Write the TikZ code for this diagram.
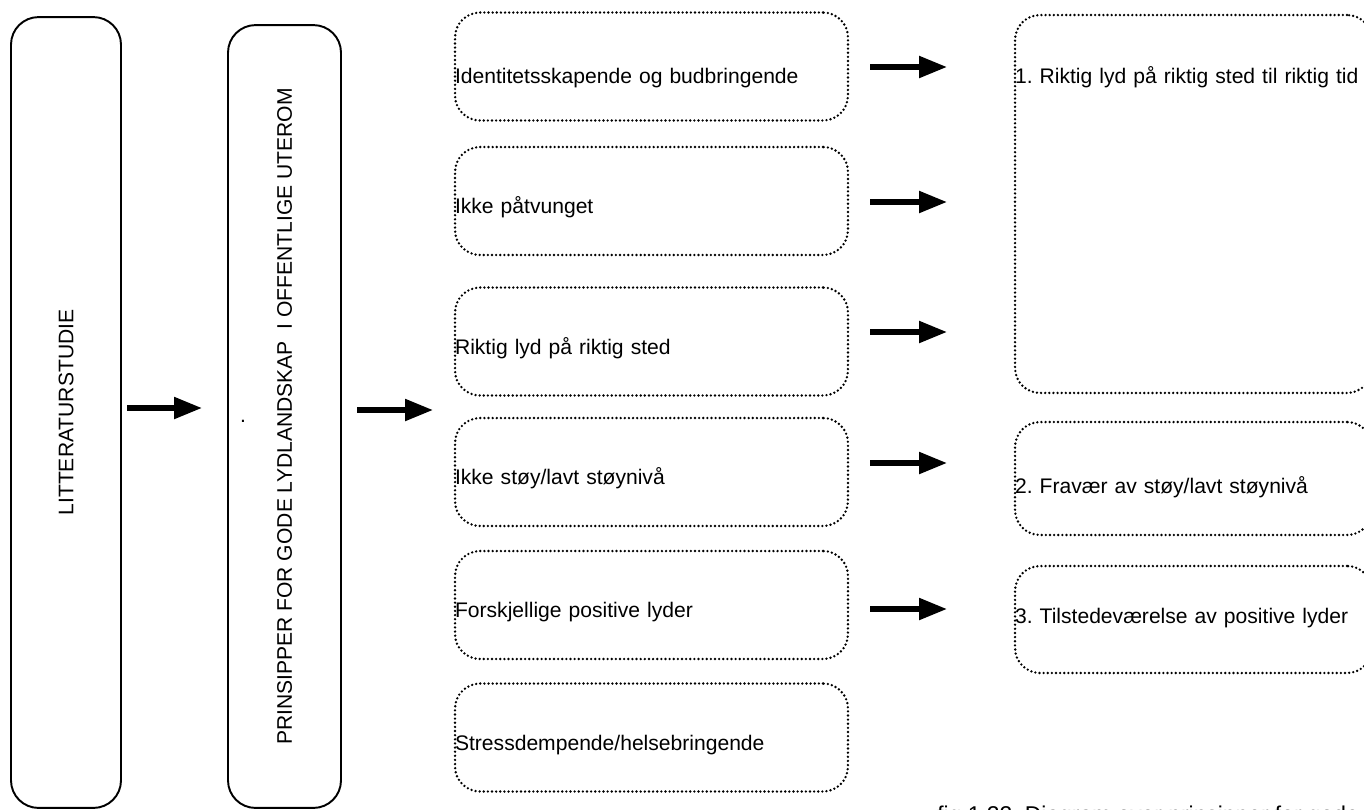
\documentclass[tikz,border=0pt]{standalone}
\usepackage{fontspec}
\setmainfont{Liberation Sans}
\usetikzlibrary{arrows.meta}
\frenchspacing

\begin{document}
\begin{tikzpicture}[x=0.02cm,y=-0.02cm]
\tikzset{every node/.style={font=\fontsize{12}{14}\selectfont},
  fast/.style={draw,line width=1.1pt,rounded corners=0.55cm,rotate=90},
  prikket/.style={draw,line width=1.5pt,dash pattern=on 0pt off 2.35pt,line cap=round,rounded corners=0.5cm,inner xsep=0pt,align=left,text height=0.6cm,text depth=0.1cm},
  venstre/.style={prikket,minimum width=7.86cm,text width=7.86cm,minimum height=2.16cm},
  hoyre/.style={prikket,minimum width=7.14cm,text width=7.14cm},
  pil/.style={line width=3pt,-{Triangle[length=0.56cm,width=0.42cm]}}}
\clip (0,0) rectangle (1364,809);

\node[fast,minimum width=15.82cm,minimum height=2.2cm] (lit) at (66,412.5) {LITTERATURSTUDIE};
\node[fast,minimum width=15.66cm,minimum height=2.26cm] (prin) at (284.5,416.5) {PRINSIPPER FOR GODE LYDLANDSKAP\ \ I OFFENTLIGE UTEROM};
\node[inner sep=0pt] (prikk) at (243,421) {.};

\node[venstre,text height=0.76cm] (ident) at (651.5,66.5) {Identitetsskapende og budbringende};
\node[venstre] (paatv) at (651.5,201) {Ikke påtvunget};
\node[venstre] (riktig) at (651.5,341.5) {Riktig lyd på riktig sted};
\node[venstre] (stoy) at (651.5,472) {Ikke støy/lavt støynivå};
\node[venstre] (posit) at (651.5,605) {Forskjellige positive lyder};
\node[venstre] (stress) at (651.5,737.5) {Stressdempende/helsebringende};

\node[hoyre,minimum height=7.56cm,text height=0.4cm,text depth=5.24cm] (tid) at (1193.5,204) {1. Riktig lyd på riktig sted til riktig tid};
\node[hoyre,minimum height=2.26cm,text height=0.684cm] (fravaer) at (1193.5,478.5) {2. Fravær av støy/lavt støynivå};
\node[hoyre,minimum height=2.14cm,text height=0.244cm] (tilstede) at (1193.5,619.5) {3. Tilstedeværelse av positive lyder};

\coordinate (a1) at (127,408);
\coordinate (a2) at (202,408);
\draw[pil] (a1) -- (a2);
\coordinate (b1) at (357,410);
\coordinate (b2) at (433,410);
\draw[pil] (b1) -- (b2);
\foreach \y [count=\i] in {67,202,332,463,609}{
  \coordinate (s\i) at (870,\y);
  \coordinate (e\i) at (947,\y);
  \draw[pil] (s\i) -- (e\i);
}

%\node (fig) at (1150,820) {};
\node[anchor=north west,inner sep=0pt,font=\fontsize{13}{15}\selectfont] (fig) at (937,806) {fig 1.22. Diagram over prinsipper for gode lydlandskap i offentlige uterom};

\end{tikzpicture}
\end{document}
